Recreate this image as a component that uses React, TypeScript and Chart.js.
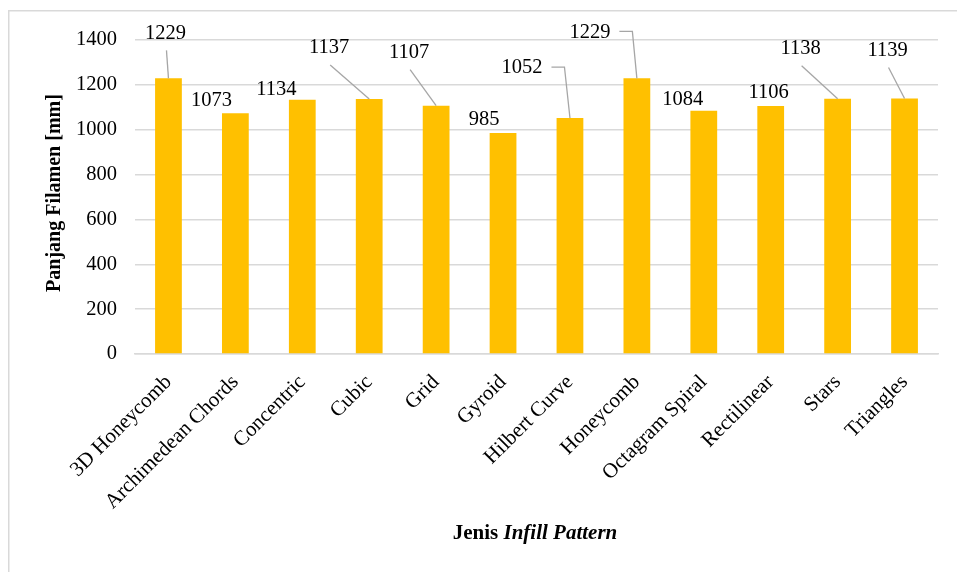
import React, { useEffect, useRef } from "react";
import { Chart, registerables } from "chart.js";

Chart.register(...registerables);

const categories = [
  "3D Honeycomb",
  "Archimedean Chords",
  "Concentric",
  "Cubic",
  "Grid",
  "Gyroid",
  "Hilbert Curve",
  "Honeycomb",
  "Octagram Spiral",
  "Rectilinear",
  "Stars",
  "Triangles",
];

const filamentLength = [1229, 1073, 1134, 1137, 1107, 985, 1052, 1229, 1084, 1106, 1138, 1139];

const yTicks = [0, 200, 400, 600, 800, 1000, 1200, 1400];

const yTitle = "Panjang Filamen [mm]";
const xTitleBold = "Jenis ";
const xTitleItalic = "Infill Pattern";

// label placement relative to each bar's top centre (layout only)
const labelLayout: { dx: number; dy: number; leader: "none" | "straight" | "elbow" }[] = [
  { dx: -3, dy: -45, leader: "straight" },
  { dx: -24, dy: -13, leader: "none" },
  { dx: -26, dy: -10, leader: "none" },
  { dx: -40, dy: -51, leader: "straight" },
  { dx: -27, dy: -53, leader: "straight" },
  { dx: -19, dy: -13, leader: "none" },
  { dx: -48, dy: -50, leader: "elbow" },
  { dx: -47, dy: -46, leader: "elbow" },
  { dx: -21, dy: -11, leader: "none" },
  { dx: -2, dy: -13, leader: "none" },
  { dx: -37, dy: -50, leader: "straight" },
  { dx: -17, dy: -48, leader: "straight" },
];

const FONT = "'Liberation Serif', 'Times New Roman', serif";

const decorPlugin = {
  id: "decor",
  beforeDraw(chart: any) {
    const ctx = chart.ctx;
    ctx.save();
    ctx.fillStyle = "#ffffff";
    ctx.fillRect(0, 0, chart.width, chart.height);
    ctx.strokeStyle = "#d9d9d9";
    ctx.lineWidth = 1.5;
    ctx.strokeRect(8.75, 10.75, chart.width + 20, chart.height + 20);
    ctx.restore();
  },
  afterDatasetsDraw(chart: any) {
    const ctx = chart.ctx;
    const meta = chart.getDatasetMeta(0);
    ctx.save();
    ctx.font = `20.5px ${FONT}`;
    ctx.textAlign = "center";
    ctx.textBaseline = "middle";
    meta.data.forEach((bar: any, i: number) => {
      const lay = labelLayout[i];
      const bx = bar.x;
      const by = bar.y;
      const lx = bx + lay.dx;
      const ly = by + lay.dy;
      const text = String(filamentLength[i]);
      ctx.strokeStyle = "#a6a6a6";
      ctx.lineWidth = 1.3;
      if (lay.leader === "straight") {
        ctx.beginPath();
        ctx.moveTo(lx + 1, ly + 17);
        ctx.lineTo(bx, by);
        ctx.stroke();
      } else if (lay.leader === "elbow") {
        const w = ctx.measureText(text).width;
        const sx = lx + w / 2 + 9;
        ctx.beginPath();
        ctx.moveTo(sx, ly - 1);
        ctx.lineTo(sx + 13, ly - 1);
        ctx.lineTo(bx, by);
        ctx.stroke();
      }
      ctx.fillStyle = "#000000";
      ctx.fillText(text, lx, ly);
    });
    ctx.restore();
  },
  afterDraw(chart: any) {
    const ctx = chart.ctx;
    ctx.save();
    ctx.fillStyle = "#000000";
    // y title
    ctx.font = `bold 20px ${FONT}`;
    ctx.textAlign = "center";
    ctx.textBaseline = "middle";
    ctx.translate(55, 193);
    ctx.rotate(-Math.PI / 2);
    ctx.fillText(yTitle, 0, 0);
    ctx.restore();

    ctx.save();
    ctx.fillStyle = "#000000";
    ctx.textBaseline = "middle";
    ctx.textAlign = "left";
    ctx.font = `bold 21px ${FONT}`;
    const w1 = ctx.measureText(xTitleBold).width;
    ctx.font = `italic bold 21px ${FONT}`;
    const w2 = ctx.measureText(xTitleItalic).width;
    const cx = 535;
    const startX = cx - (w1 + w2) / 2;
    ctx.font = `bold 21px ${FONT}`;
    ctx.fillText(xTitleBold, startX, 534);
    ctx.font = `italic bold 21px ${FONT}`;
    ctx.fillText(xTitleItalic, startX + w1, 534);
    ctx.restore();
  },
};

export default function App() {
  const ref = useRef<HTMLCanvasElement | null>(null);
  useEffect(() => {
    if (!ref.current) return;
    const chart = new Chart(ref.current, {
      type: "bar",
      data: {
        labels: categories,
        datasets: [
          {
            data: filamentLength,
            backgroundColor: "#FFC000",
            borderWidth: 0,
            barPercentage: 0.4,
            categoryPercentage: 1.0,
          },
        ],
      },
      options: {
        animation: false,
        responsive: false,
        devicePixelRatio: 1,
        layout: { padding: { left: 8, top: 40, right: 19, bottom: 0 } },
        plugins: {
          legend: { display: false },
          tooltip: { enabled: false },
        },
        scales: {
          x: {
            grid: { display: false, drawTicks: false },
            border: { display: true, color: "#d9d9d9", width: 1.5 },
            ticks: {
              color: "#000000",
              font: { family: FONT, size: 21 },
              maxRotation: 45,
              minRotation: 45,
              autoSkip: false,
              padding: 16,
            },
            afterFit(scale: any) {
              scale.height = 218;
            },
          },
          y: {
            min: 0,
            max: 1400,
            afterBuildTicks(scale: any) {
              scale.ticks = yTicks.map((v) => ({ value: v }));
            },
            grid: { color: "#d9d9d9", lineWidth: 1.5, drawTicks: false },
            border: { display: false },
            ticks: {
              color: "#000000",
              font: { family: FONT, size: 20.5 },
              padding: 18,
              callback: (v: any) => String(v),
            },
            afterFit(scale: any) {
              scale.width = 127;
            },
          },
        },
      },
      plugins: [decorPlugin],
    } as any);
    return () => chart.destroy();
  }, []);
  return (
    <div style={{ position: "fixed", left: 0, top: 0, width: 957, height: 572, background: "#fff" }}>
      <canvas ref={ref} width={957} height={572} style={{ width: 957, height: 572, display: "block" }} />
    </div>
  );
}
